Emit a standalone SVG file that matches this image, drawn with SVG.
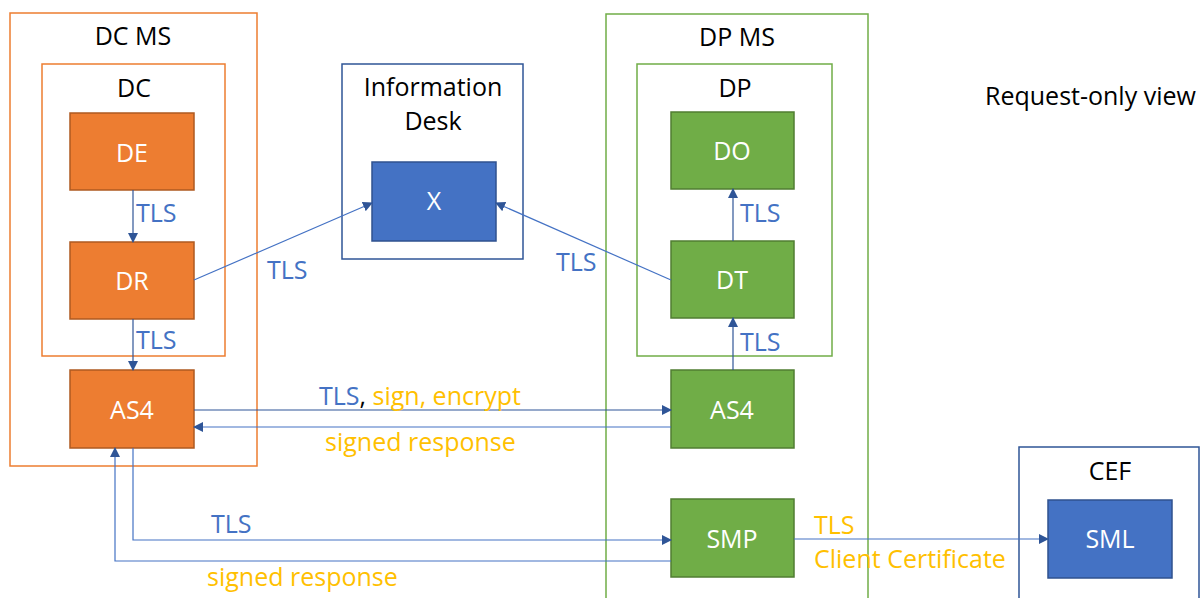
<svg xmlns="http://www.w3.org/2000/svg" width="1202" height="598" viewBox="0 0 1202 598">
<style>
text{font-family:"Open Sans","Noto Sans",sans-serif;font-size:25px}
.lbl{fill:#000;text-anchor:middle}
.nt{fill:#fff;text-anchor:middle}
.bl{fill:#4472C4}
.or{fill:#FFC000}
.cO{fill:none;stroke:#ED7D31;stroke-width:1.5}
.cG{fill:none;stroke:#70AD47;stroke-width:1.5}
.cB{fill:none;stroke:#2F5597;stroke-width:1.5}
.nO{fill:#ED7D31;stroke:#AE5A21;stroke-width:1.5}
.nG{fill:#70AD47;stroke:#507E32;stroke-width:1.5}
.nB{fill:#4472C4;stroke:#2F528F;stroke-width:1.5}
.ln{fill:none;stroke:#4472C4;stroke-width:1.2;marker-end:url(#ah)}
.dk{stroke:#2F5597}
</style>
<defs>
<marker id="ah" markerUnits="userSpaceOnUse" markerWidth="10" markerHeight="10" refX="9" refY="5" orient="auto">
<path d="M0,0 L10,5 L0,10 Z" fill="#2F5597"/>
</marker>
</defs>
<rect width="1202" height="598" fill="#fff"/>
<g id="dcms"><rect class="cO" x="10" y="13" width="247" height="453"/><text class="lbl" x="133" y="45">DC MS</text></g>
<g id="dc"><rect class="cO" x="42" y="64" width="183" height="292"/><text class="lbl" x="134" y="97">DC</text></g>
<g id="infodesk"><rect class="cB" x="342" y="64" width="181" height="195"/><text class="lbl" x="433" y="96">Information</text><text class="lbl" x="433" y="130">Desk</text></g>
<g id="dpms"><rect class="cG" x="606" y="14" width="262" height="600"/><text class="lbl" x="737" y="46">DP MS</text></g>
<g id="dp"><rect class="cG" x="637" y="64" width="195" height="292"/><text class="lbl" x="735" y="97">DP</text></g>
<g id="cef"><rect class="cB" x="1019" y="447" width="180" height="170"/><text class="lbl" x="1110" y="480">CEF</text></g>
<g id="de"><rect class="nO" x="70" y="113" width="124" height="77"/><text class="nt" x="132" y="162">DE</text></g>
<g id="dr"><rect class="nO" x="70" y="242" width="124" height="77"/><text class="nt" x="132" y="290">DR</text></g>
<g id="as4dc"><rect class="nO" x="70" y="370" width="124" height="78"/><text class="nt" x="132" y="419">AS4</text></g>
<g id="x"><rect class="nB" x="372" y="162" width="124" height="79"/><text class="nt" x="434" y="210">X</text></g>
<g id="do"><rect class="nG" x="671" y="112" width="123" height="77"/><text class="nt" x="732" y="160">DO</text></g>
<g id="dt"><rect class="nG" x="671" y="241" width="123" height="77"/><text class="nt" x="732" y="289">DT</text></g>
<g id="as4dp"><rect class="nG" x="671" y="370" width="123" height="78"/><text class="nt" x="732" y="419">AS4</text></g>
<g id="smp"><rect class="nG" x="671" y="499" width="123" height="78"/><text class="nt" x="732" y="548">SMP</text></g>
<g id="sml"><rect class="nB" x="1048" y="500" width="124" height="78"/><text class="nt" x="1110" y="548">SML</text></g>
<g id="connectors">
<path class="ln dk" d="M133,190 V242"/>
<path class="ln dk" d="M133,319 V370"/>
<path class="ln" d="M194,280 L372,203"/>
<path class="ln" d="M671,280 L496,203"/>
<path class="ln dk" d="M733,241 V189"/>
<path class="ln dk" d="M733,370 V318"/>
<path class="ln dk" d="M194,410 H671"/>
<path class="ln" d="M671,427 H194"/>
<path class="ln" d="M133,448 V540 H671"/>
<path class="ln" d="M671,561 H115 V448"/>
<path class="ln" d="M794,539 H1048"/>
</g>
<g id="labels">
<text class="bl" x="136" y="222">TLS</text>
<text class="bl" x="136" y="349">TLS</text>
<text class="bl" x="267" y="279">TLS</text>
<text class="bl" x="556" y="271">TLS</text>
<text class="bl" x="740" y="222">TLS</text>
<text class="bl" x="740" y="351">TLS</text>
<text x="319" y="405"><tspan class="bl">TLS</tspan><tspan fill="#000">,</tspan><tspan class="or"> sign, encrypt</tspan></text>
<text class="or" x="325" y="451">signed response</text>
<text class="bl" x="211" y="533">TLS</text>
<text class="or" x="207" y="586">signed response</text>
<text class="or" x="814" y="534">TLS</text>
<text class="or" x="814" y="568">Client Certificate</text>
<text fill="#000" x="985" y="105">Request-only view</text>
</g>
</svg>
